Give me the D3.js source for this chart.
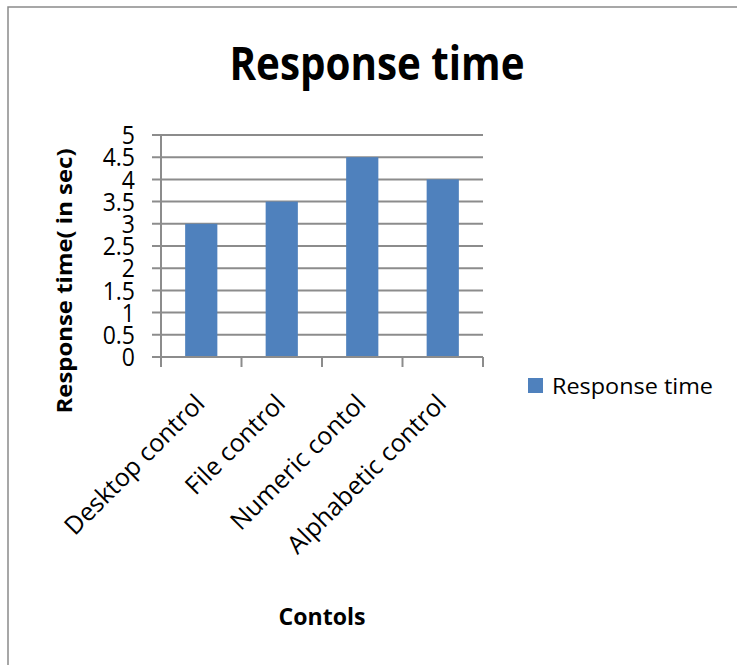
<!DOCTYPE html>
<html lang="en">
    <head>
        <meta charset="utf-8">
        <title>Response time</title>
        <script type="text/javascript" src="https://d3js.org/d3.v7.min.js"></script>
        <style type="text/css">
            body {
                margin: 0;
                background: white;
            }
            svg {
                display: block;
                font-family: "Open Sans", sans-serif;
            }
        </style>
    </head>
    <body>
        <script type="text/javascript">

        // chart data
        const categories = ["Desktop control", "File control", "Numeric contol", "Alphabetic control"];
        const values = [3, 3.5, 4.5, 4];
        const yTicks = [0, 0.5, 1, 1.5, 2, 2.5, 3, 3.5, 4, 4.5, 5];
        const seriesName = "Response time";

        const width = 737;
        const height = 665;
        const plot = {left: 161, right: 483, top: 135, bottom: 357};
        const barColor = "#4f81bd";
        const gridColor = "#8c8c8c";

        const svg = d3.select("body")
                    .append("svg")
                    .attr("width", width)
                    .attr("height", height);

        // outer frame (only left and top edges are visible)
        svg.append("rect")
            .attr("x", 8)
            .attr("y", 7)
            .attr("width", 760)
            .attr("height", 700)
            .attr("fill", "none")
            .attr("stroke", "#8a8a8a")
            .attr("stroke-width", 1.5);

        const xScale = d3.scaleBand()
                        .domain(categories)
                        .range([plot.left, plot.right])
                        .padding(0);

        const yScale = d3.scaleLinear()
                        .domain([0, 5])
                        .range([plot.bottom, plot.top]);

        // gridlines + left ticks
        svg.append("g")
            .selectAll("line")
            .data(yTicks)
            .enter()
            .append("line")
            .attr("x1", plot.left - 9)
            .attr("x2", plot.right)
            .attr("y1", d => yScale(d))
            .attr("y2", d => yScale(d))
            .attr("stroke", gridColor)
            .attr("stroke-width", 2);

        // bars
        const barW = xScale.bandwidth() * 0.4;
        svg.append("g")
            .selectAll("rect")
            .data(values)
            .enter()
            .append("rect")
            .attr("x", (d, i) => xScale(categories[i]) + (xScale.bandwidth() - barW) / 2)
            .attr("y", d => yScale(d))
            .attr("width", barW)
            .attr("height", d => plot.bottom - yScale(d))
            .attr("fill", barColor);

        // y axis line
        svg.append("line")
            .attr("x1", plot.left)
            .attr("x2", plot.left)
            .attr("y1", plot.top)
            .attr("y2", plot.bottom)
            .attr("stroke", gridColor)
            .attr("stroke-width", 2);

        // x axis line + ticks between categories
        svg.append("line")
            .attr("x1", plot.left)
            .attr("x2", plot.right)
            .attr("y1", plot.bottom)
            .attr("y2", plot.bottom)
            .attr("stroke", gridColor)
            .attr("stroke-width", 2);

        const xTickPos = categories.map(c => xScale(c)).concat([plot.right]);
        svg.append("g")
            .selectAll("line")
            .data(xTickPos)
            .enter()
            .append("line")
            .attr("x1", d => d)
            .attr("x2", d => d)
            .attr("y1", plot.bottom)
            .attr("y2", plot.bottom + 10)
            .attr("stroke", gridColor)
            .attr("stroke-width", 2);

        // y tick labels (tall, they overlap like the original)
        svg.append("g")
            .selectAll("text")
            .data(yTicks)
            .enter()
            .append("text")
            .attr("transform", d => "translate(135," + yScale(d) + ") scale(1,1.12)")
            .attr("dy", "0.36em")
            .attr("text-anchor", "end")
            .attr("font-size", "23px")
            .attr("fill", "black")
            .text(d => d);

        // x tick labels, rotated
        svg.append("g")
            .selectAll("text")
            .data(categories)
            .enter()
            .append("text")
            .attr("transform", d => "translate(" + (xScale(d) + xScale.bandwidth() / 2 + 5) + "," + 405 + ") rotate(-45)")
            .attr("text-anchor", "end")
            .attr("font-size", "25px")
            .attr("fill", "black")
            .text(d => d);

        // title
        svg.append("text")
            .attr("x", 377)
            .attr("y", 80)
            .attr("text-anchor", "middle")
            .attr("font-size", "46px")
            .attr("font-weight", "bold")
            .attr("textLength", 295)
            .attr("lengthAdjust", "spacingAndGlyphs")
            .attr("fill", "black")
            .text("Response time");

        // y axis title
        svg.append("text")
            .attr("transform", "translate(72,281) rotate(-90)")
            .attr("text-anchor", "middle")
            .attr("font-size", "21px")
            .attr("font-weight", "bold")
            .attr("textLength", 265)
            .attr("lengthAdjust", "spacingAndGlyphs")
            .attr("fill", "black")
            .text("Response time( in sec)");

        // x axis title
        svg.append("text")
            .attr("x", 322)
            .attr("y", 625)
            .attr("text-anchor", "middle")
            .attr("font-size", "23px")
            .attr("font-weight", "bold")
            .attr("textLength", 87)
            .attr("lengthAdjust", "spacingAndGlyphs")
            .attr("fill", "black")
            .text("Contols");

        // legend
        svg.append("rect")
            .attr("x", 528)
            .attr("y", 378)
            .attr("width", 15)
            .attr("height", 15)
            .attr("fill", barColor);

        svg.append("text")
            .attr("x", 552)
            .attr("y", 394)
            .attr("font-size", "22px")
            .attr("textLength", 161)
            .attr("lengthAdjust", "spacingAndGlyphs")
            .attr("fill", "black")
            .text(seriesName);

        </script>
    </body>
</html>
